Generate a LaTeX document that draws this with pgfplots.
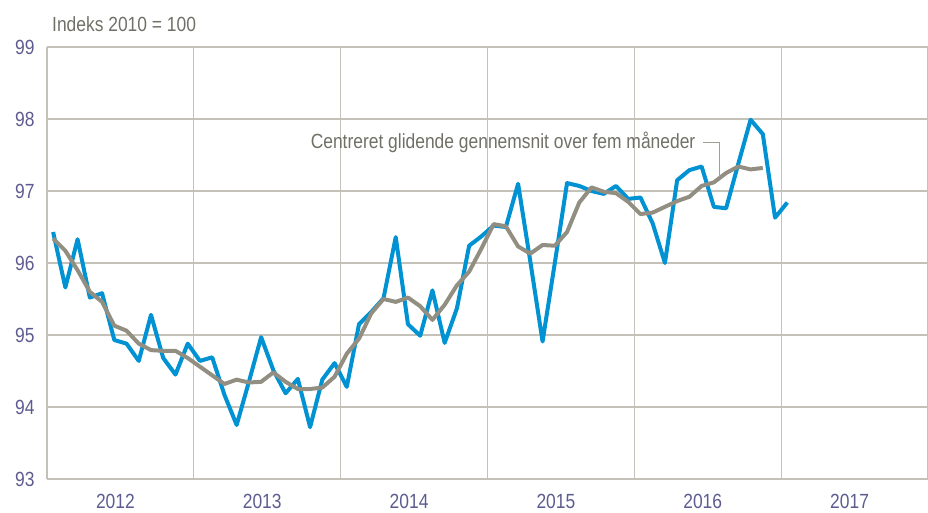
\documentclass[border=0pt]{standalone}
\usepackage{fontspec}
\setmainfont{Liberation Sans}[FakeStretch=0.85]
\usepackage{pgfplots}
\pgfplotsset{compat=1.18}
\definecolor{blueline}{RGB}{0,146,210}
\definecolor{grayline}{RGB}{146,143,130}
\definecolor{gridc}{RGB}{196,194,184}
\definecolor{ticklab}{RGB}{92,92,145}
\definecolor{txt}{RGB}{112,112,102}
\begin{document}
\begin{tikzpicture}
\begin{axis}[
  at={(0,0)}, anchor=south west,
  scale only axis, width=881bp, height=432bp,
  xmin=0, xmax=72, ymin=93, ymax=99,
  ytick={93,94,95,96,97,98,99},
  xtick={6,18,30,42,54,66},
  xticklabels={2012,2013,2014,2015,2016,2017},
  ymajorgrids,
  extra x ticks={0,12,24,36,48,60,72},
  extra x tick labels={},
  extra x tick style={xmajorgrids, major tick length=0},
  major tick length=0,
  axis line style={draw=none},
  grid style={gridc, line width=1.3bp},
  ticklabel style={font=\fontsize{20.5bp}{24bp}\selectfont, text=ticklab},
  yticklabel style={xshift=-9bp},
  xticklabel style={yshift=-14bp, xshift=-5bp, inner sep=1bp},
  /pgf/number format/assume math mode=true,
  clip=false,
]
\addplot[blueline, line width=4bp, line join=round] coordinates {
(0.5,96.43)(1.5,95.66)(2.5,96.33)(3.5,95.52)(4.5,95.58)(5.5,94.93)(6.5,94.88)(7.5,94.64)(8.5,95.28)(9.5,94.68)(10.5,94.45)(11.5,94.88)
(12.5,94.64)(13.5,94.69)(14.5,94.17)(15.5,93.75)(16.5,94.35)(17.5,94.97)(18.5,94.51)(19.5,94.19)(20.5,94.39)(21.5,93.72)(22.5,94.38)(23.5,94.61)
(24.5,94.28)(25.5,95.15)(26.5,95.32)(27.5,95.51)(28.5,96.36)(29.5,95.15)(30.5,94.99)(31.5,95.62)(32.5,94.89)(33.5,95.37)(34.5,96.24)(35.5,96.37)
(36.5,96.52)(37.5,96.50)(38.5,97.10)(39.5,96.02)(40.5,94.91)(41.5,96.00)(42.5,97.11)(43.5,97.07)(44.5,97.00)(45.5,96.96)(46.5,97.07)(47.5,96.89)
(48.5,96.91)(49.5,96.55)(50.5,96.00)(51.5,97.15)(52.5,97.29)(53.5,97.34)(54.5,96.78)(55.5,96.76)(56.5,97.38)(57.5,97.99)(58.5,97.79)(59.5,96.63)
(60.5,96.84)
};
\addplot[grayline, line width=4bp, line join=round] coordinates {
(0.5,96.34)(1.5,96.17)(2.5,95.90)(3.5,95.60)(4.5,95.46)(5.5,95.13)(6.5,95.06)(7.5,94.88)(8.5,94.79)(9.5,94.78)(10.5,94.78)(11.5,94.68)
(12.5,94.56)(13.5,94.44)(14.5,94.32)(15.5,94.38)(16.5,94.34)(17.5,94.35)(18.5,94.48)(19.5,94.35)(20.5,94.25)(21.5,94.25)(22.5,94.27)(23.5,94.42)
(24.5,94.74)(25.5,94.95)(26.5,95.30)(27.5,95.50)(28.5,95.46)(29.5,95.52)(30.5,95.40)(31.5,95.21)(32.5,95.42)(33.5,95.69)(34.5,95.88)(35.5,96.20)
(36.5,96.54)(37.5,96.51)(38.5,96.23)(39.5,96.13)(40.5,96.25)(41.5,96.24)(42.5,96.43)(43.5,96.84)(44.5,97.05)(45.5,96.99)(46.5,96.97)(47.5,96.85)
(48.5,96.68)(49.5,96.70)(50.5,96.78)(51.5,96.86)(52.5,96.92)(53.5,97.07)(54.5,97.12)(55.5,97.25)(56.5,97.34)(57.5,97.30)(58.5,97.32)
};
\node[anchor=east, text=txt, font=\fontsize{20.5bp}{24bp}\selectfont, inner sep=0pt] at (axis cs:53.0,97.67) {Centreret glidende gennemsnit over fem måneder};
\draw[grayline!85!white, line width=1.3bp] (axis cs:53.65,97.67) -- (axis cs:54.95,97.67) -- (axis cs:54.95,97.2);
\node[anchor=base west, text=txt, font=\fontsize{20.5bp}{24bp}\selectfont, inner sep=0pt] at ([xshift=5bp,yshift=16bp]rel axis cs:0,1) {Indeks 2010 = 100};
\end{axis}
\pgfresetboundingbox
\useasboundingbox (-47bp,-34bp) rectangle (881bp,479bp);
\end{tikzpicture}
\end{document}
